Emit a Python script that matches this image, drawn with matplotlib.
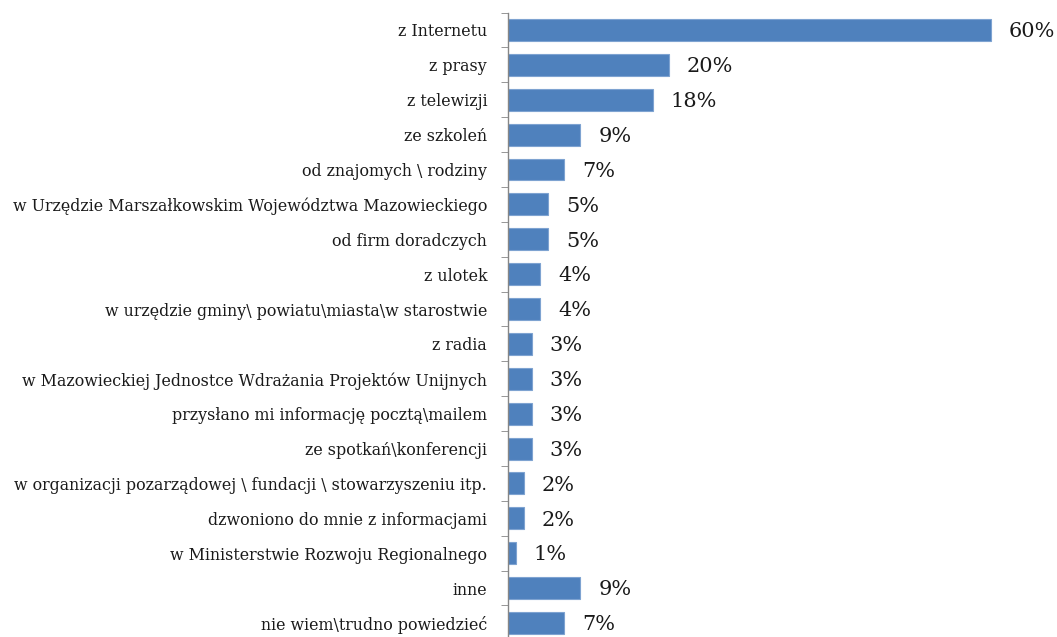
import matplotlib.pyplot as plt
import numpy as np

categories = [
    "z Internetu",
    "z prasy",
    "z telewizji",
    "ze szkoleń",
    "od znajomych \\ rodziny",
    "w Urzędzie Marszałkowskim Województwa Mazowieckiego",
    "od firm doradczych",
    "z ulotek",
    "w urzędzie gminy\\ powiatu\\miasta\\w starostwie",
    "z radia",
    "w Mazowieckiej Jednostce Wdrażania Projektów Unijnych",
    "przysłano mi informację pocztą\\mailem",
    "ze spotkań\\konferencji",
    "w organizacji pozarządowej \\ fundacji \\ stowarzyszeniu itp.",
    "dzwoniono do mnie z informacjami",
    "w Ministerstwie Rozwoju Regionalnego",
    "inne",
    "nie wiem\\trudno powiedzieć",
]
values = [60, 20, 18, 9, 7, 5, 5, 4, 4, 3, 3, 3, 3, 2, 2, 1, 9, 7]

plt.rcParams["font.family"] = ["DejaVu Serif"]

fig = plt.figure(figsize=(10.57, 6.37), dpi=100)
ax = fig.add_axes([0.4806, -0.0053, 0.5194, 0.9856])

y = np.arange(len(categories))
ax.barh(y, values, height=0.63, color="#4f81bd", edgecolor="#7ea3d1", linewidth=0.8)

# percentage labels to the right of each bar
for yi, v in zip(y, values):
    ax.text(v + 2.2, yi + 0.05, f"{v}%", va="center", ha="left", fontsize=15, color="#1a1a1a")

ax.set_ylim(len(categories) - 0.5, -0.5)
ax.set_xlim(0, 68.2)
ax.set_yticks(y)
ax.set_yticklabels(categories, fontsize=11.4, color="#1a1a1a")
ax.tick_params(axis="y", which="major", length=0, pad=15)
ax.set_yticks(np.arange(len(categories) + 1) - 0.5, minor=True)
ax.tick_params(axis="y", which="minor", length=5, color="#868686", direction="out")
ax.set_xticks([])

for side in ["top", "right", "bottom"]:
    ax.spines[side].set_visible(False)
ax.spines["left"].set_color("#868686")
ax.spines["left"].set_linewidth(1.0)

fig.savefig("out.png", dpi=100)
